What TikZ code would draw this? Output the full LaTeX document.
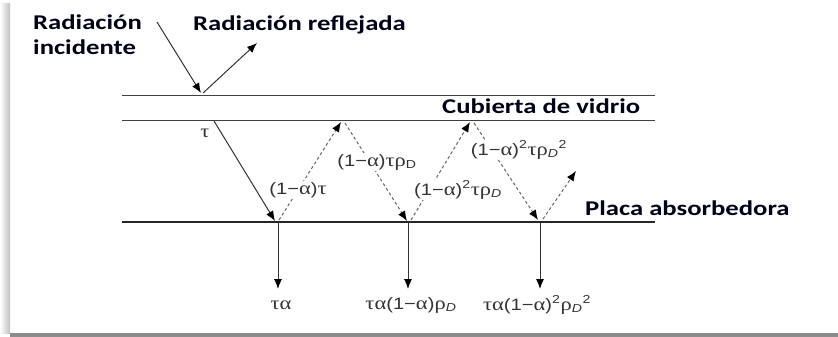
\documentclass[tikz,border=0pt]{standalone}
\usepackage{fontspec}
\usepackage{graphicx}
\setmainfont{Liberation Sans}
\newfontfamily\labfont{Carlito}
\newfontfamily\grfont{Liberation Serif}[Scale=1.12]
\usetikzlibrary{arrows.meta,shadings}
\newcommand{\gt}{{\grfont τ}}
\newcommand{\ga}{{\grfont α}}
\newcommand{\gr}{{\grfont ρ}}
\newcommand{\mn}{−}
\newcommand{\bw}[1]{\scalebox{1.27}[1]{#1}}
\newcommand{\mw}[1]{\scalebox{1.22}[1]{#1}}
\begin{document}
\begin{tikzpicture}[x=1pt,y=-1pt,
  bold/.style={font=\labfont\bfseries\fontsize{21}{23}\selectfont, text=black!90!blue, inner sep=0pt, anchor=west},
  mathlab/.style={font=\fontsize{16.5}{18}\selectfont, text=black!80, inner sep=1pt, fill=white},
  glass/.style={draw=black!75, line width=1pt},
  plate/.style={draw=black!85, line width=2.4pt},
  ray/.style={draw=black!80, line width=1pt, -{Latex[length=10pt,width=8pt,black]}},
  dray/.style={draw=black!60, line width=1pt, dash pattern=on 3pt off 2.5pt, -{Latex[length=10pt,width=8pt,black]}},
]
\useasboundingbox (0,0) rectangle (838,337);
\fill[white] (0,0) rectangle (838,337);
% frame shadow
\shade[left color=white, right color=black!25] (0,4) rectangle (10,333);
\fill[black!45] (10,333) rectangle (838,337);

% layers
\coordinate (g1l) at (122,95); \coordinate (g1r) at (655,95);
\coordinate (g2l) at (122,120); \coordinate (g2r) at (655,120);
\coordinate (pl) at (122,222); \coordinate (pr) at (655,222);
\draw[glass] (g1l) -- (g1r);
\draw[glass] (g2l) -- (g2r);
\draw[plate] (pl) -- (pr);

% labels
\node[bold] (rad1) at (33,22) {\bw{Radiación}};
\node[bold] (rad2) at (33,47) {\bw{incidente}};
\node[bold] (refl) at (193,25) {\bw{Radiación reflejada}};
\node[bold] (cub) at (442,106) {\bw{Cubierta de vidrio}};
\node[bold] (pla) at (585,208) {\bw{Placa absorbedora}};

% incident and reflected
\coordinate (i0) at (157,22);
\coordinate (i1) at (201,93);
\coordinate (r0) at (203,93);
\coordinate (r1) at (257,43);
\draw[ray] (i0) -- (i1);
\draw[ray] (r0) -- (r1);

% transmitted
\coordinate (t0) at (214,121);
\coordinate (a1) at (275,221);
\draw[ray] (t0) -- (a1);
\node[mathlab] (tau) at (205,133) {\mw{\gt}};

% dashed bounces
\coordinate (b1) at (279,220); \coordinate (c1) at (341,122);
\coordinate (c1b) at (345,123); \coordinate (a2) at (407,221);
\coordinate (b2) at (411,220); \coordinate (c2) at (470,122);
\coordinate (c2b) at (474,123); \coordinate (a3) at (538,220);
\coordinate (b3) at (543,219); \coordinate (e3) at (576,171);
\draw[dray] (b1) -- (c1);
\draw[dray] (c1b) -- (a2);
\draw[dray] (b2) -- (c2);
\draw[dray] (c2b) -- (a3);
\draw[dray] (b3) -- (e3);

\node[mathlab] (l1) at (298,190) {\mw{(1\mn\ga)\gt}};
\node[mathlab] (l2) at (377,162) {\mw{(1\mn\ga)\gt\gr\textsubscript{D}}};
\node[mathlab] (l3) at (458,190) {\mw{(1\mn\ga)\textsuperscript{2}\gt\gr\textsubscript{\itshape D}}};
\node[mathlab] (l4) at (519,150) {\mw{(1\mn\ga)\textsuperscript{2}\gt\gr\textsubscript{\itshape D}\textsuperscript{2}}};

% absorbed
\coordinate (d1a) at (278,223); \coordinate (d1b) at (278,289);
\coordinate (d2a) at (408,223); \coordinate (d2b) at (408,289);
\coordinate (d3a) at (540,223); \coordinate (d3b) at (540,289);
\draw[ray] (d1a) -- (d1b);
\draw[ray] (d2a) -- (d2b);
\draw[ray] (d3a) -- (d3b);
\node[mathlab] (o1) at (281,305) {\mw{\gt\ga}};
\node[mathlab] (o2) at (411,305) {\mw{\gt\ga(1\mn\ga)\gr\textsubscript{\itshape D}}};
\node[mathlab] (o3) at (537,305) {\mw{\gt\ga(1\mn\ga)\textsuperscript{2}\gr\textsubscript{\itshape D}\textsuperscript{2}}};
\end{tikzpicture}
\end{document}
